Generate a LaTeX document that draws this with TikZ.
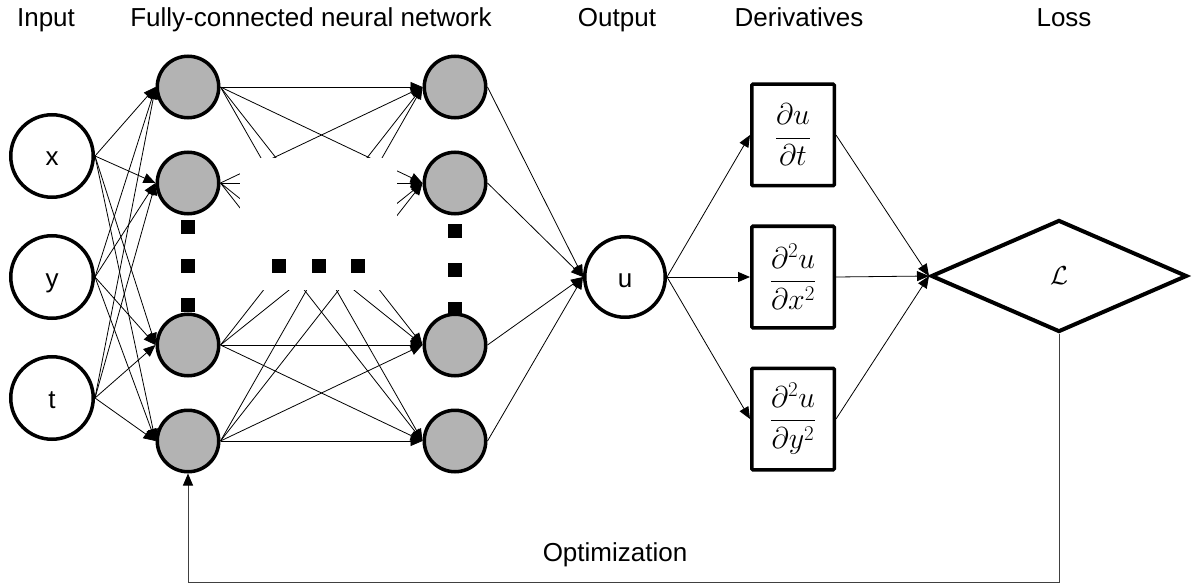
\RequirePackage{fix-cm}
\documentclass[tikz,border=0pt]{standalone}
\usepackage[no-math]{fontspec}
\setmainfont{Liberation Sans}
\usetikzlibrary{arrows.meta,shapes.geometric}
\definecolor{hidgray}{RGB}{179,179,179}
\begin{document}
\begin{tikzpicture}[x=1pt,y=-1pt,
  every node/.style={font=\fontsize{26}{31}\selectfont},
  inp/.style={circle,draw,line width=3.5pt,minimum size=82.5pt,inner sep=0pt,text height=20pt,text depth=0pt},
  hid/.style={circle,draw,fill=hidgray,line width=3.5pt,minimum size=61.5pt,inner sep=0pt},
  deriv/.style={rectangle,draw,line width=3.5pt,minimum width=82.5pt,minimum height=101.5pt,inner sep=0pt,rounded corners=1pt,font=\fontsize{30}{36}\selectfont},
  lossbox/.style={diamond,draw,line width=4pt,minimum width=256pt,minimum height=112pt,inner sep=0pt},
  dotsq/.style={rectangle,fill=black,minimum size=14pt,inner sep=0pt},
  title/.style={anchor=base},
  edge/.style={line width=0.8pt,-{Triangle[length=12pt,width=10pt]}},
  fb/.style={line width=1pt,black!75,-{Triangle[length=12pt,width=10pt,color=black,fill=black]}},
]
\useasboundingbox (0,0) rectangle (1199,588);

% titles
\node[title] (tin) at (46,27) {Input};
\node[title] (tfc) at (311,27) {Fully-connected neural network};
\node[title] (tout) at (617,27) {Output};
\node[title] (tder) at (799,27) {Derivatives};
\node[title] (tloss) at (1064,27) {Loss};

% inputs
\node[inp] (nx) at (52,156) {x};
\node[inp] (ny) at (52,277) {y};
\node[inp] (nt) at (52,398) {t};

% hidden layers
\node[hid] (h11) at (188,87) {};
\node[hid] (h12) at (188,183) {};
\node[hid] (h13) at (188,345) {};
\node[hid] (h14) at (188,441) {};
\node[hid] (h21) at (455,87) {};
\node[hid] (h22) at (455,183) {};
\node[hid] (h23) at (455,345) {};
\node[hid] (h24) at (455,441) {};

% output
\node[inp,minimum size=80.5pt] (u) at (625,277) {u};

% derivatives
\node[deriv] (d1) at (793,135) {$\displaystyle\frac{\partial u}{\partial t}$};
\node[deriv] (d2) at (793,277) {$\displaystyle\frac{\partial^2 u}{\partial x^2}$};
\node[deriv] (d3) at (793,419) {$\displaystyle\frac{\partial^2 u}{\partial y^2}$};

% loss
\node[lossbox] (loss) at (1059,276) {$\mathcal{L}$};

% edges input -> hidden 1
\foreach \a in {nx,ny,nt}
  \foreach \b in {h11,h12,h13,h14}
    \draw[edge] (\a.east) -- (\b.west);

% edges hidden 1 -> hidden 2
\foreach \a in {h11,h12,h13,h14}
  \foreach \b in {h21,h22,h23,h24}
    \draw[edge] (\a.east) -- (\b.west);

% blank middle region
\fill[white] (240,158) rectangle (397,290);

% dots
\node[dotsq] (v11) at (188,227) {};
\node[dotsq] (v12) at (188,266) {};
\node[dotsq] (v13) at (188,305) {};
\node[dotsq] (v21) at (455,231) {};
\node[dotsq] (v22) at (455,270) {};
\node[dotsq] (v23) at (455,309) {};
\node[dotsq] (m1) at (279,266) {};
\node[dotsq] (m2) at (319,266) {};
\node[dotsq] (m3) at (358,266) {};

% hidden 2 -> u
\foreach \a in {h21,h22,h23,h24}
  \draw[edge] (\a.east) -- (u.west);

% u -> derivatives
\foreach \b in {d1,d2,d3}
  \draw[edge] (u.east) -- (\b.west);

% derivatives -> loss
\foreach \b in {d1,d2,d3}
  \draw[edge] (\b.east) -- (loss.west);

% feedback
\draw[fb] (loss.south) -- ++(0,248) coordinate (fbc) -| (h14.south);
\node[anchor=base] (opt) at (615,561) {Optimization};
\end{tikzpicture}
\end{document}
